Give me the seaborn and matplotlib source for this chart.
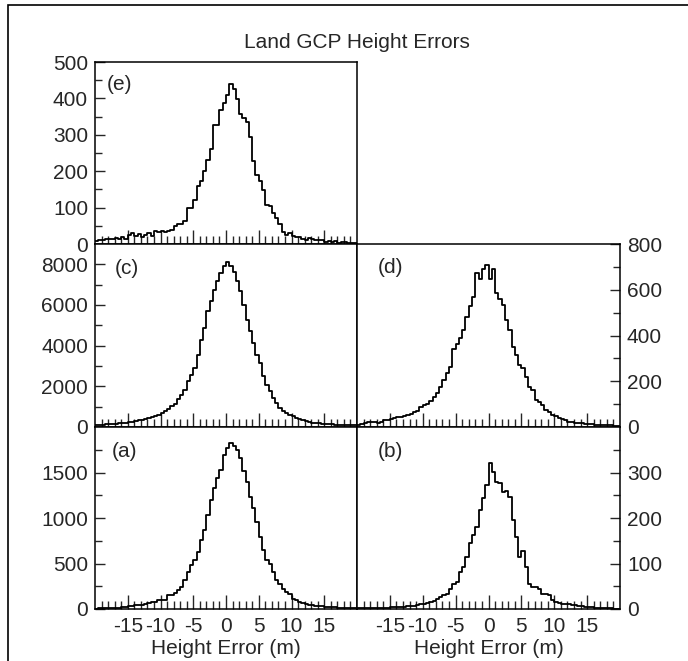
import numpy as np
import pandas as pd
import matplotlib
matplotlib.use("Agg")
import matplotlib.pyplot as plt
from matplotlib.patches import Rectangle
from matplotlib.ticker import FixedLocator
import seaborn as sns

# ---------------- data (bin width 0.5 m, from -20 to 20 m) ----------------
bin_start = -20.0
bin_stop = 20.0
bin_width = 0.5

counts_e = [8, 12, 11, 14, 15, 14, 16, 15, 18, 14,
            25, 31, 22, 27, 20, 24, 30, 22, 36, 32,
            35, 33, 36, 38, 50, 54, 56, 62, 98, 100,
            122, 158, 172, 200, 232, 262, 326, 326, 368, 386,
            408, 440, 425, 398, 356, 346, 336, 295, 228, 190,
            172, 148, 108, 104, 84, 72, 56, 34, 26, 30,
            22, 20, 20, 14, 12, 16, 14, 12, 10, 10,
            6, 8, 6, 8, 4, 6, 5, 3, 4, 2]

counts_c = [100, 110, 120, 130, 140, 150, 160, 180, 200, 220,
            240, 270, 300, 330, 360, 390, 430, 470, 520, 600,
            690, 770, 880, 1020, 1150, 1380, 1590, 1840, 2250, 2570,
            2900, 3560, 4300, 4870, 5690, 6210, 6750, 7160, 7570, 7900,
            8100, 7900, 7600, 7160, 6670, 6020, 5280, 4700, 4130, 3560,
            3150, 2490, 2080, 1750, 1430, 1180, 930, 780, 690, 600,
            520, 440, 370, 320, 280, 250, 220, 200, 180, 160,
            150, 140, 130, 120, 110, 100, 95, 90, 85, 80]

counts_d = [10, 12, 18, 20, 22, 24, 18, 22, 30, 32,
            36, 38, 42, 45, 48, 52, 58, 64, 68, 88,
            95, 100, 114, 132, 148, 175, 206, 234, 262, 342,
            362, 390, 426, 482, 528, 570, 672, 646, 690, 708,
            646, 690, 585, 558, 534, 468, 424, 351, 315, 271,
            257, 217, 176, 162, 118, 111, 96, 74, 67, 52,
            48, 38, 34, 30, 24, 22, 19, 17, 16, 14,
            12, 12, 10, 9, 10, 8, 7, 8, 6, 5]

counts_a = [5, 6, 8, 8, 10, 12, 14, 16, 18, 24,
            30, 32, 40, 44, 48, 55, 66, 72, 78, 96,
            98, 100, 150, 152, 176, 206, 243, 316, 408, 481,
            537, 629, 757, 868, 1033, 1199, 1327, 1437, 1529, 1695,
            1768, 1824, 1790, 1743, 1658, 1511, 1401, 1235, 1107, 960,
            794, 647, 537, 500, 408, 316, 279, 224, 188, 169,
            114, 96, 77, 62, 55, 48, 42, 37, 33, 29,
            26, 22, 20, 18, 15, 14, 12, 10, 9, 8]

counts_b = [2, 2, 2, 3, 3, 3, 3, 2, 3, 3,
            4, 4, 4, 5, 4, 6, 6, 7, 8, 10,
            12, 13, 15, 18, 23, 26, 30, 34, 45, 56,
            60, 82, 93, 115, 144, 162, 181, 218, 243, 273,
            321, 302, 280, 276, 258, 260, 247, 196, 159, 115,
            127, 93, 56, 49, 48, 45, 34, 34, 30, 19,
            15, 13, 12, 10, 10, 9, 8, 7, 6, 5,
            4, 4, 3, 3, 3, 2, 2, 2, 1, 1]

title = "Land GCP Height Errors"
x_label = "Height Error (m)"
x_ticks = [-15, -10, -5, 0, 5, 10, 15]
panel_labels = ["(e)", "(c)", "(d)", "(a)", "(b)"]

y_ticks_e = [0, 100, 200, 300, 400, 500]
y_ticks_c = [0, 2000, 4000, 6000, 8000]
y_ticks_d = [0, 200, 400, 600, 800]
y_ticks_a = [0, 500, 1000, 1500]
y_ticks_b = [0, 100, 200, 300]

# ---------------- style ----------------
sns.set_style("ticks")
plt.rcParams["font.family"] = ["Liberation Sans", "DejaVu Sans"]
plt.rcParams["axes.unicode_minus"] = False
FS = 15
plt.rcParams["font.size"] = FS

W, H = 688, 661
fig = plt.figure(figsize=(W / 100, H / 100), dpi=100)


def rect(x0, y0, x1, y1):
    return [x0 / W, 1 - y1 / H, (x1 - x0) / W, (y1 - y0) / H]


n_bins = int(round((bin_stop - bin_start) / bin_width))
centers = bin_start + bin_width * (np.arange(n_bins) + 0.5)

panels = [
    # counts, rect, ylim, major, minor, side, show_x, label, label_pos
    (counts_e, rect(95, 62, 357, 244), 500, y_ticks_e, np.arange(50, 500, 100), "left", False, panel_labels[0], (0.045, 0.93)),
    (counts_c, rect(95, 244, 357, 427), 9000, y_ticks_c, np.arange(1000, 9000, 2000), "left", False, panel_labels[1], (0.075, 0.92)),
    (counts_d, rect(357, 244, 620, 427), 800, y_ticks_d, np.arange(100, 800, 200), "right", False, panel_labels[2], (0.078, 0.925)),
    (counts_a, rect(95, 427, 357, 609), 2000, y_ticks_a, np.arange(250, 2000, 500), "left", True, panel_labels[3], (0.063, 0.92)),
    (counts_b, rect(357, 427, 620, 609), 400, y_ticks_b, np.arange(50, 400, 100), "right", True, panel_labels[4], (0.078, 0.92)),
]

for counts, r, ytop, major, minor, side, show_x, lab, lpos in panels:
    ax = fig.add_axes(r)
    df = pd.DataFrame({"err": centers, "n": np.asarray(counts, dtype=float)})
    sns.histplot(data=df, x="err", weights="n", bins=n_bins,
                 binrange=(bin_start, bin_stop), element="step",
                 fill=False, color="black", linewidth=1.3, ax=ax)
    ax.set_xlim(bin_start, bin_stop)
    ax.set_ylim(0, ytop)
    ax.set_ylabel("")
    ax.set_xlabel("")
    for sp in ax.spines.values():
        sp.set_visible(True)
        sp.set_linewidth(1.1)
        sp.set_color("black")
    ax.xaxis.set_major_locator(FixedLocator(x_ticks))
    ax.xaxis.set_minor_locator(FixedLocator([v for v in range(-19, 20) if v % 5 != 0]))
    ax.yaxis.set_major_locator(FixedLocator(major))
    ax.yaxis.set_minor_locator(FixedLocator(list(minor)))
    ax.tick_params(axis="x", which="major", direction="in", length=10, width=1.0,
                   bottom=True, top=False, labelbottom=show_x, pad=6, labelsize=FS)
    ax.tick_params(axis="x", which="minor", direction="in", length=5.5, width=1.0,
                   bottom=True, top=False)
    if side == "left":
        ax.tick_params(axis="y", which="both", direction="in", left=True, right=False,
                       labelleft=True, labelright=False, width=1.0, pad=5, labelsize=FS)
    else:
        ax.tick_params(axis="y", which="both", direction="in", left=False, right=True,
                       labelleft=False, labelright=True, width=1.0, pad=5, labelsize=FS)
    ax.tick_params(axis="y", which="major", length=7)
    ax.tick_params(axis="y", which="minor", length=5)
    if show_x:
        ax.set_xlabel(x_label, fontsize=FS, labelpad=2)
    ax.text(lpos[0], lpos[1], lab, transform=ax.transAxes, ha="left", va="top", fontsize=FS)

fig.text(357 / W, 1 - 42 / H, title, ha="center", va="center", fontsize=FS)

# outer frame
fig.add_artist(Rectangle((7.5 / W, -0.05), 1.2, 1.05 - 4.5 / H, transform=fig.transFigure,
                         fill=False, edgecolor="black", linewidth=1.2, clip_on=False))

fig.savefig("out.png", dpi=100)
